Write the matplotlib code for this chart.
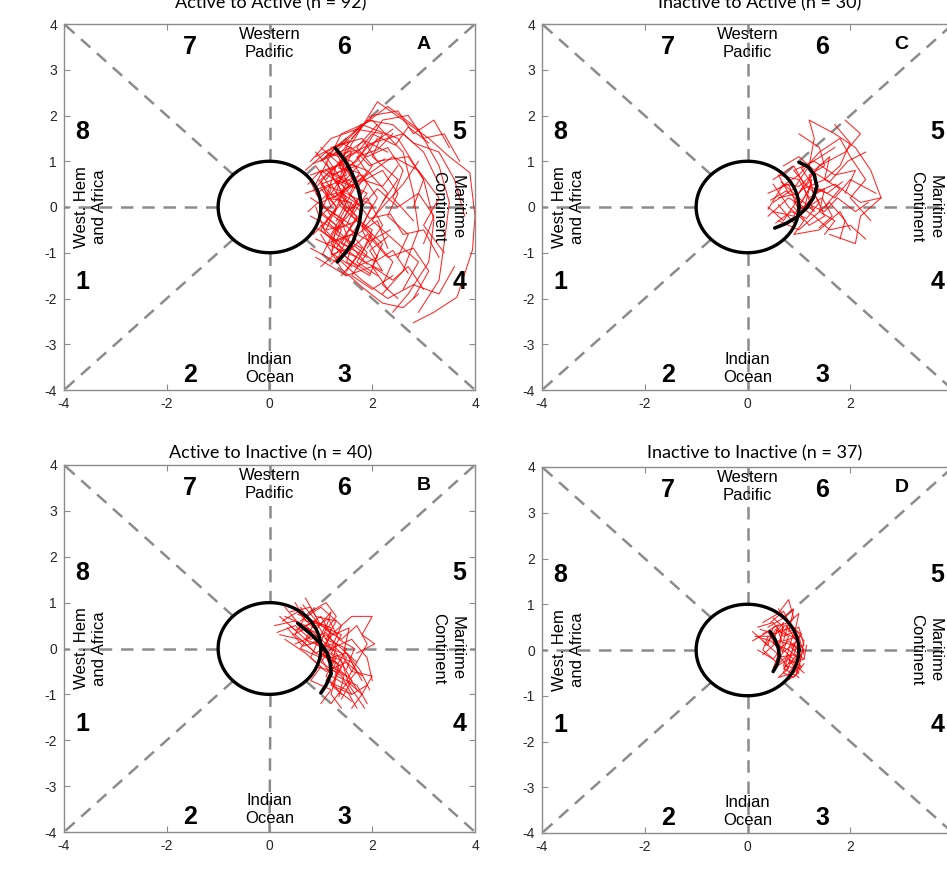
import numpy as np
import matplotlib
matplotlib.use("Agg")
from matplotlib import pyplot as plt

plt.rcParams["axes.unicode_minus"] = False

# ---- data (RMM1, RMM2 trajectories) ----
titles = ["Active to Active (n = 92)", "Active to Inactive (n = 40)",
          "Inactive to Active (n = 30)", "Inactive to Inactive (n = 37)"]
letters = ["A", "B", "C", "D"]

tracks_a = [
    [(1.1, 0.6), (1.5, 1.2), (2.1, 2.3), (2.6, 1.9), (3.1, 1.5), (3.5, 1.1), (3.9, 0.75), (4.0, -0.2), (3.95, -0.94), (3.65, -1.97), (3.2, -2.3), (2.8, -2.53)],
    [(1.0, 1.0), (1.6, 1.6), (2.3, 2.2), (2.9, 1.7), (3.3, 0.9), (3.5, 0.1), (3.4, -0.8), (3.3, -1.6), (2.9, -2.3)],
    [(1.2, 1.1), (1.8, 1.8), (2.5, 1.5), (3.0, 0.6), (3.2, -0.3), (3.1, -1.2), (2.7, -1.9), (2.4, -2.3)],
    [(0.9, 0.5), (1.4, 1.6), (2.0, 1.9), (2.6, 1.2), (2.8, 0.3), (2.9, -0.5), (2.6, -1.4), (2.2, -1.9)],
    [(0.9, 0.9), (1.2, 0.4), (1.0, -0.1), (1.4, -0.5), (1.2, -1.0), (1.6, -1.3)],
    [(0.8, 0.7), (1.3, 0.9), (1.1, 0.2), (1.6, 0.1), (1.3, -0.6), (1.8, -0.9), (1.5, -1.4)],
    [(1.0, 1.3), (1.5, 0.8), (1.2, 0.3), (1.7, -0.2), (1.4, -0.8), (1.9, -1.1)],
    [(0.7, 0.8), (1.1, 1.2), (1.6, 1.0), (1.9, 0.5), (1.6, -0.1), (2.0, -0.6), (1.7, -1.2), (2.1, -1.5)],
    [(0.85, -0.6), (1.2, -0.2), (0.9, 0.3), (1.4, 0.6), (1.1, 1.1), (1.6, 1.3)],
    [(0.8, -0.9), (1.3, -1.2), (1.5, -0.7), (1.1, -0.3), (1.5, 0.2), (1.2, 0.7), (1.7, 0.9)],
    [(1.0, -1.3), (1.4, -0.9), (1.0, -0.5), (1.3, 0.0), (1.0, 0.5), (1.5, 0.7), (1.3, 1.2)],
    [(0.7, 0.3), (1.2, 0.5), (1.5, -0.1), (1.9, 0.2), (2.2, -0.4), (1.9, -0.9)],
    [(0.9, 1.1), (1.4, 1.4), (1.9, 1.1), (2.3, 1.3), (2.6, 0.8), (2.4, 0.2), (2.8, -0.3)],
    [(0.8, -0.2), (1.3, -0.5), (1.7, -0.3), (2.1, -0.8), (2.4, -1.2), (2.2, -1.7), (2.5, -2.0)],
    [(1.1, 0.8), (1.7, 0.5), (2.2, 0.8), (2.5, 0.3), (2.3, -0.2), (2.7, -0.6), (2.5, -1.1)],
    [(0.9, -1.1), (1.5, -1.5), (2.0, -1.3), (2.4, -1.6), (2.7, -1.3), (3.0, -1.8)],
    [(1.2, 1.3), (1.8, 1.5), (2.1, 1.0), (2.7, 1.1), (3.0, 0.6), (2.8, 0.0)],
    [(1.0, 0.1), (1.4, 0.3), (1.8, 0.0), (2.1, 0.4), (2.5, 0.0), (2.9, 0.3), (3.2, -0.2), (3.0, -0.8)],
    [(0.8, 1.0), (1.2, 1.5), (1.7, 1.7), (2.2, 1.6), (2.0, 1.1), (2.5, 0.6), (2.2, 0.1)],
    [(1.1, -0.8), (1.6, -0.6), (1.9, -1.0), (1.6, -1.5), (2.0, -1.8), (2.4, -1.5)],
    [(0.9, 0.0), (1.1, -0.6), (1.6, -0.9), (1.4, -0.3), (1.8, 0.3), (1.5, 0.8), (1.9, 1.3), (2.4, 1.7)],
    [(1.3, -0.3), (1.7, 0.5), (1.4, 1.0), (1.9, 0.8), (2.3, 0.3), (2.0, -0.3), (2.5, -0.8), (2.9, -1.2), (2.6, -1.8)],
    [(0.75, 0.5), (1.0, 0.8), (1.45, 0.45), (1.25, -0.2), (1.7, -0.6), (2.1, -0.3), (2.3, -0.9)],
    [(1.2, 0.0), (1.0, 0.6), (1.5, 1.1), (2.0, 1.4), (2.6, 1.6), (3.0, 1.2), (3.3, 0.5)],
    [(1.0, -0.4), (1.5, -1.0), (1.9, -0.6), (2.3, -1.1), (2.8, -0.9), (3.1, -1.4), (2.8, -2.0)],
    [(1.1, 1.0), (1.3, 0.5), (1.8, 0.7), (2.1, 0.2), (1.8, -0.4), (2.2, -0.8), (2.0, -1.3), (2.3, -1.8)],
    [(0.9, -0.7), (1.3, -0.9), (1.7, -1.3), (2.1, -1.1), (1.8, -0.5), (2.2, 0.0), (2.6, 0.5), (2.9, 1.0)],
    [(1.4, 1.2), (1.9, 1.9), (2.4, 1.8), (2.8, 1.4), (3.3, 1.2), (3.6, 0.6), (3.8, -0.2)],
    [(1.3, -1.1), (1.8, -1.6), (2.3, -2.0), (2.8, -1.7), (3.3, -1.9), (3.6, -1.3)],
    [(1.5, 0.4), (1.9, 0.7), (2.4, 1.1), (2.9, 0.8), (3.3, 0.2), (3.0, -0.4), (3.4, -1.0)],
    [(1.0, 0.4), (1.3, 0.0), (1.1, -0.5), (1.5, -0.4), (1.7, 0.1), (1.4, 0.5), (1.8, 1.0), (2.1, 1.5)],
    [(0.8, 0.2), (1.2, -0.1), (1.6, -0.4), (1.3, -0.9), (1.7, -1.1), (1.4, -1.5)],
    [(1.2, -0.6), (1.5, 0.0), (1.3, 0.6), (1.7, 0.4), (2.0, 0.9), (1.7, 1.3), (2.1, 1.8)],
    [(0.9, 1.2), (1.2, 0.8), (1.6, 1.2), (1.4, 0.6), (1.9, 0.3), (1.6, -0.2), (2.0, -0.5), (1.8, -1.0)],
    [(1.6, 1.5), (2.0, 2.0), (2.5, 2.1), (2.8, 1.6), (3.2, 1.9), (3.5, 1.3)],
    [(0.85, 0.35), (1.15, 0.75), (1.5, 0.55), (1.35, 0.05), (1.75, -0.35), (1.5, -0.75), (1.9, -1.25)],
    [(0.95, -0.25), (1.35, 0.2), (1.65, 0.65), (1.45, 1.15), (1.85, 1.45), (2.3, 1.2)],
    [(1.05, -1.0), (1.25, -0.55), (1.6, -0.1), (1.4, 0.35), (1.8, 0.6), (2.2, 0.45), (2.5, 0.9)],
    [(0.8, 0.55), (1.05, 0.0), (1.4, -0.25), (1.2, -0.8), (1.55, -1.15), (1.95, -1.45)],
    [(1.0, 0.75), (1.45, 0.95), (1.3, 0.3), (1.8, -0.1), (1.55, -0.5), (1.95, -0.75), (2.35, -0.5)],
    [(0.9, -0.45), (1.3, -0.75), (1.7, -0.55), (1.5, -1.2), (1.95, -1.5), (2.1, -1.05)],
    [(1.1, 1.2), (1.55, 1.45), (1.35, 0.85), (1.75, 0.75), (1.55, 0.25), (2.0, 0.05), (1.8, -0.45)],
    [(0.75, -0.1), (1.1, 0.25), (1.5, 0.35), (1.9, 0.75), (1.7, 1.1), (2.1, 1.25), (2.4, 1.6)],
    [(1.2, -1.25), (1.5, -0.95), (1.85, -1.2), (2.2, -1.4), (1.95, -0.95), (2.3, -0.65)],
    [(0.95, 0.6), (1.25, 0.2), (1.55, 0.45), (1.35, 0.95), (1.7, 1.2), (1.95, 0.9), (2.25, 1.05)],
    [(1.0, -0.15), (1.3, -0.4), (1.2, -1.05), (1.65, -0.85), (2.05, -1.2), (2.4, -0.95), (2.7, -1.45)],
    [(0.85, 0.95), (1.3, 1.15), (1.75, 1.25), (2.0, 1.6), (2.45, 1.35), (2.7, 1.75), (3.1, 1.4)],
    [(1.15, 0.45), (1.6, 0.25), (1.95, -0.25), (2.35, -0.15), (2.6, -0.6), (3.0, -0.5), (3.3, -1.1)],
    [(1.0, -0.6), (1.4, -1.35), (1.8, -1.75), (2.2, -2.1), (2.6, -2.2), (2.9, -1.9)],
    [(1.25, 0.7), (1.7, 1.0), (2.2, 1.9), (2.7, 2.0), (3.0, 1.5), (3.4, 1.6), (3.7, 1.0)],
]

tracks_b = [
    [(0.3, 0.7), (0.7, 0.5), (1.0, 0.2), (1.3, -0.1), (1.5, -0.5), (1.7, -0.9)],
    [(0.1, 0.5), (0.5, 0.6), (0.8, 0.3), (0.6, 0.0), (1.0, -0.2), (1.2, -0.6), (1.5, -0.8)],
    [(0.5, 1.0), (0.7, 0.6), (1.1, 0.5), (0.9, 0.1), (1.3, -0.2), (1.1, -0.6), (1.4, -1.0)],
    [(0.2, 0.3), (0.6, 0.2), (0.9, -0.1), (1.2, 0.1), (1.5, -0.2), (1.3, -0.6), (1.7, -0.8), (1.9, -1.2)],
    [(0.4, 0.8), (0.8, 0.9), (1.0, 0.5), (1.4, 0.3), (1.2, -0.1), (1.6, -0.3), (1.8, -0.7)],
    [(0.7, 1.1), (0.9, 0.7), (1.3, 0.6), (1.1, 0.2), (1.5, 0.0), (1.3, -0.4), (1.6, -0.7), (1.4, -1.1)],
    [(1.0, 0.0), (1.3, 0.4), (1.6, 0.7), (2.0, 0.7), (1.8, 0.3), (2.05, 0.1), (1.7, -0.1)],
    [(0.3, 0.2), (0.7, -0.1), (1.0, -0.4), (0.8, -0.7), (1.2, -0.9), (1.0, -1.2)],
    [(0.6, 0.4), (1.0, 0.7), (1.2, 0.3), (1.0, -0.1), (1.4, -0.4), (1.2, -0.8), (1.6, -1.0)],
    [(0.4, 0.5), (0.8, 0.1), (1.1, 0.3), (1.4, 0.0), (1.7, -0.3), (1.5, -0.7), (1.8, -1.0), (1.6, -1.3)],
    [(0.8, 0.8), (1.1, 1.0), (1.3, 0.7), (1.1, 0.4), (1.4, 0.2), (1.7, 0.5), (1.9, 0.1), (1.7, -0.3)],
    [(0.2, 0.7), (0.5, 0.4), (0.9, 0.6), (0.7, 0.2), (1.1, 0.0), (0.9, -0.4), (1.3, -0.5), (1.2, -1.0), (1.4, -1.3)],
    [(0.6, 0.9), (0.9, 0.4), (1.2, 0.8), (1.0, 0.1), (1.4, -0.1), (1.6, -0.5), (2.0, -0.6), (1.8, -1.0)],
    [(0.9, 0.6), (1.2, 0.0), (1.0, -0.3), (1.4, -0.6), (1.6, -1.0), (1.9, -0.8)],
    [(0.5, 0.1), (0.9, 0.3), (1.2, -0.2), (1.5, -0.1), (1.7, -0.5), (1.4, -0.9), (1.2, -1.2)],
    [(0.7, 0.7), (0.5, 0.3), (0.9, -0.1), (1.3, -0.3), (1.1, -0.7), (1.5, -0.9), (1.7, -1.3)],
    [(0.6, 0.6), (1.0, 0.9), (1.4, 0.5), (1.2, 0.0), (1.6, 0.2), (1.9, -0.2), (2.0, -0.7)],
    [(0.3, 0.9), (0.6, 0.5), (1.0, 0.3), (0.8, -0.2), (1.1, -0.5), (1.5, -0.3), (1.8, -0.6)],
    [(0.25, 0.6), (0.55, 0.8), (0.85, 0.45), (1.15, 0.65), (1.35, 0.2), (1.65, 0.0), (1.5, -0.45)],
    [(0.45, 0.3), (0.75, 0.45), (1.05, -0.05), (1.35, -0.35), (1.25, -0.85), (1.6, -1.15)],
    [(0.65, 0.95), (0.95, 0.55), (1.25, 0.3), (1.55, 0.45), (1.45, -0.05), (1.75, -0.45), (1.95, -0.9)],
    [(0.35, 0.45), (0.65, 0.05), (0.95, 0.15), (1.15, -0.3), (1.45, -0.6), (1.35, -1.05)],
    [(0.55, 0.75), (0.85, 0.6), (1.2, 0.45), (1.05, -0.15), (1.4, -0.25), (1.55, -0.8), (1.85, -1.3)],
    [(0.15, 0.35), (0.5, 0.5), (0.8, 0.2), (1.1, 0.35), (1.3, 0.05), (1.2, -0.4), (1.5, -0.6)],
]

tracks_c = [
    [(0.5, 0.1), (0.9, 0.4), (1.2, 0.9), (1.3, 1.5), (1.2, 1.9), (1.7, 1.6), (2.1, 1.3), (2.4, 0.8), (2.6, 0.2), (2.2, -0.2), (2.1, -0.8), (1.6, -0.6)],
    [(0.6, 0.4), (1.0, 0.7), (1.4, 1.2), (1.8, 1.5), (2.0, 1.1), (2.3, 0.6), (2.0, 0.2), (2.4, -0.3)],
    [(0.4, -0.2), (0.8, 0.2), (1.1, 0.0), (1.4, 0.4), (1.7, 0.2), (2.0, 0.6), (2.5, 0.3)],
    [(0.5, 0.6), (0.9, 0.9), (1.1, 0.5), (0.9, 0.1), (1.3, -0.2), (1.6, 0.1), (1.9, -0.3), (1.8, -0.7)],
    [(0.4, 0.3), (0.8, 0.5), (1.0, -0.1), (1.3, 0.2), (1.2, 0.7), (1.5, 0.9), (1.4, 1.3), (1.0, 1.6)],
    [(0.6, -0.3), (1.0, -0.5), (1.3, -0.2), (1.6, -0.5), (2.0, -0.4), (2.3, -0.7)],
    [(0.7, 0.9), (1.0, 1.1), (1.3, 0.8), (1.6, 1.1), (1.5, 0.6), (1.8, 0.4), (1.5, 0.0)],
    [(0.4, 0.0), (0.7, -0.3), (1.0, 0.2), (1.3, -0.1), (1.1, 0.4), (1.5, 0.6), (1.8, 0.9), (2.0, 1.4), (1.7, 1.8)],
    [(0.8, 0.3), (0.6, 0.7), (1.0, 0.6), (1.2, 0.2), (1.5, 0.4), (1.4, -0.1), (1.7, -0.3), (1.5, -0.6)],
    [(0.5, -0.1), (0.9, -0.2), (1.2, 0.4), (0.9, 0.8), (1.3, 1.0), (1.7, 0.7), (2.1, 0.8), (1.9, 0.3)],
    [(0.9, 0.0), (1.2, -0.4), (1.5, -0.2), (1.3, 0.3), (1.7, 0.5), (2.2, 0.1), (2.6, 0.2)],
    [(0.6, 0.2), (1.0, 0.3), (1.4, 0.9), (1.9, 1.2), (2.2, 1.6), (1.9, 1.9)],
    [(0.5, 0.5), (0.8, 0.0), (1.1, -0.3), (0.9, -0.6), (1.4, -0.5), (1.8, -0.1), (2.0, -0.5)],
    [(0.45, 0.15), (0.75, 0.35), (1.05, 0.1), (1.25, 0.5), (1.05, 0.85), (1.35, 1.05), (1.7, 1.3)],
    [(0.55, -0.35), (0.85, -0.1), (1.15, -0.25), (1.4, 0.1), (1.2, 0.45), (1.55, 0.3), (1.85, 0.55)],
    [(0.65, 0.55), (0.95, 0.25), (1.25, 0.6), (1.1, -0.05), (1.45, 0.2), (1.65, -0.2), (1.4, -0.45)],
    [(0.4, -0.05), (0.7, 0.5), (1.0, 0.45), (1.3, 0.75), (1.6, 0.55), (1.95, 1.0), (2.3, 1.2)],
    [(0.6, 0.05), (0.9, -0.35), (1.2, 0.05), (1.5, -0.1), (1.75, 0.2), (2.1, -0.1), (2.35, 0.1)],
]

tracks_d = [
    [(0.2, 0.5), (0.5, 0.6), (0.7, 0.3), (0.9, 0.4), (0.8, 0.0), (1.0, -0.2), (0.8, -0.5)],
    [(0.1, 0.2), (0.4, 0.4), (0.6, 0.0), (0.8, 0.2), (1.0, 0.0), (0.9, -0.3), (1.1, -0.5)],
    [(0.3, 0.6), (0.6, 0.8), (0.8, 1.1), (0.9, 0.7), (0.7, 0.4), (1.0, 0.2), (0.9, -0.1)],
    [(0.2, 0.0), (0.5, -0.2), (0.7, 0.1), (0.6, 0.4), (0.9, 0.5), (1.1, 0.2), (1.0, -0.4)],
    [(0.4, 0.3), (0.3, 0.0), (0.6, -0.3), (0.8, -0.1), (0.7, -0.5), (0.9, -0.6), (1.1, -0.3)],
    [(0.1, 0.4), (0.4, 0.1), (0.5, 0.5), (0.8, 0.6), (0.7, 0.2), (1.0, 0.3), (1.1, -0.1)],
    [(0.5, 0.7), (0.7, 0.5), (0.6, 0.1), (0.9, -0.2), (0.7, -0.4), (1.0, -0.6)],
    [(0.3, -0.1), (0.6, 0.2), (0.9, 0.1), (0.8, -0.3), (1.1, -0.2), (1.15, 0.1)],
    [(0.6, 0.9), (0.8, 0.6), (1.0, 0.8), (0.9, 0.3), (1.1, 0.0), (0.9, -0.4)],
    [(0.2, 0.3), (0.5, 0.3), (0.7, 0.6), (0.6, -0.1), (0.8, -0.4), (0.6, -0.6), (0.9, -0.5)],
    [(0.4, 0.5), (0.7, 0.7), (0.9, 0.9), (0.8, 0.4), (1.0, 0.5), (1.1, 0.1), (0.9, 0.0)],
    [(0.3, 0.2), (0.6, -0.1), (0.5, -0.4), (0.8, -0.2), (1.0, -0.5), (0.8, -0.65)],
    [(0.25, 0.45), (0.55, 0.35), (0.75, 0.55), (0.95, 0.2), (0.8, -0.2), (1.05, -0.35), (0.85, -0.55)],
    [(0.35, 0.1), (0.55, 0.45), (0.8, 0.3), (0.65, -0.15), (0.95, -0.1), (0.75, -0.45)],
    [(0.15, 0.3), (0.45, 0.2), (0.7, -0.05), (0.9, 0.15), (1.05, -0.15), (0.95, -0.5)],
    [(0.45, 0.6), (0.7, 0.85), (0.85, 0.5), (1.05, 0.35), (0.85, 0.05), (1.1, -0.2)],
    [(0.3, 0.35), (0.6, 0.55), (0.5, 0.15), (0.8, 0.0), (0.7, -0.35), (1.0, -0.4)],
]

# composite mean tracks (thick black)
mean_a = [(1.28, 1.29), (1.45, 1.05), (1.6, 0.75), (1.72, 0.42), (1.8, 0.05),
          (1.75, -0.35), (1.63, -0.75), (1.48, -1.0), (1.32, -1.2)]
mean_b = [(0.55, 0.55), (0.8, 0.32), (1.0, 0.1), (1.12, -0.1), (1.18, -0.3),
          (1.2, -0.55), (1.1, -0.8), (1.0, -0.97)]
mean_c = [(0.53, -0.46), (0.75, -0.36), (0.96, -0.22), (1.15, -0.02), (1.28, 0.2),
          (1.35, 0.45), (1.3, 0.7), (1.18, 0.88), (1.0, 0.98)]
mean_d = [(0.44, 0.4), (0.54, 0.22), (0.6, 0.05), (0.62, -0.15), (0.57, -0.33), (0.5, -0.47)]

tracks = [tracks_a, tracks_b, tracks_c, tracks_d]
means = [mean_a, mean_b, mean_c, mean_d]

# pixel boxes of each panel in the 947x875 picture: left, top, right, bottom
W, H = 947, 875
boxes = [(64, 24, 475, 390), (64, 465, 475, 832),
         (542, 24, 953, 390), (542, 467, 953, 833)]
title_px = [(271, 8), (271, 458), (760, 8), (755, 458)]

fig = plt.figure(figsize=(W / 100, H / 100), dpi=100)

phase_pos = {"1": (-3.65, -1.64), "2": (-1.55, -3.67), "3": (1.45, -3.67), "4": (3.69, -1.64),
             "5": (3.69, 1.64), "6": (1.45, 3.5), "7": (-1.55, 3.5), "8": (-3.65, 1.64)}

gray = "#8c8c8c"
for k in range(4):
    l, t, r, b = boxes[k]
    ax = fig.add_axes([l / W, 1 - b / H, (r - l) / W, (b - t) / H])
    ax.set_xlim(-4, 4)
    ax.set_ylim(-4, 4)

    # phase-space guide lines, from the unit circle out to the frame
    dash = dict(color=gray, lw=1.8, ls=(0, (5, 3.5)), zorder=1)
    for ang in np.arange(8) * np.pi / 4:
        c, s = np.cos(ang), np.sin(ang)
        far = 4 / max(abs(c), abs(s))
        ax.plot([c, far * c], [s, far * s], **dash)

    for tr in tracks[k]:
        xy = np.array(tr)
        ax.plot(xy[:, 0], xy[:, 1], color="red", lw=0.75, alpha=0.85, zorder=2)

    th = np.linspace(0, 2 * np.pi, 200)
    ax.plot(np.cos(th), np.sin(th), color="black", lw=2.4, zorder=3)
    m = np.array(means[k])
    ax.plot(m[:, 0], m[:, 1], color="black", lw=2.6, zorder=4, solid_capstyle="round")

    for lab, (px, py) in phase_pos.items():
        ax.text(px, py, lab, ha="center", va="center", fontsize=18,
                fontweight="bold", family="Liberation Sans", zorder=5)
    txt = dict(ha="center", va="center", fontsize=12, family="Liberation Sans",
               linespacing=1.25, zorder=5)
    ax.text(0, 3.58, "Western\nPacific", **txt)
    ax.text(0, -3.52, "Indian\nOcean", **txt)
    ax.text(-3.49, 0, "West. Hem\nand Africa", rotation=90, **txt)
    ax.text(3.47, 0, "Maritime\nContinent", rotation=-90, **txt)
    ax.text(3.0, 3.56, letters[k], ha="center", va="center", fontsize=14,
            fontweight="bold", family="Liberation Sans", zorder=5)

    ax.set_xticks([-4, -2, 0, 2, 4])
    ax.set_yticks(np.arange(-4, 5))
    ax.tick_params(direction="in", length=4, width=0.8, color=gray,
                   top=True, right=True, labelsize=10, labelcolor="#262626", pad=5)
    for lab in ax.get_xticklabels() + ax.get_yticklabels():
        lab.set_family("Liberation Sans")
    for sp in ax.spines.values():
        sp.set_color(gray)
        sp.set_linewidth(1.0)

    tx, ty = title_px[k]
    fig.text(tx / W, 1 - ty / H, titles[k], ha="center", va="baseline",
             fontsize=13, family="Lato")

fig.savefig("out.png", dpi=100)
